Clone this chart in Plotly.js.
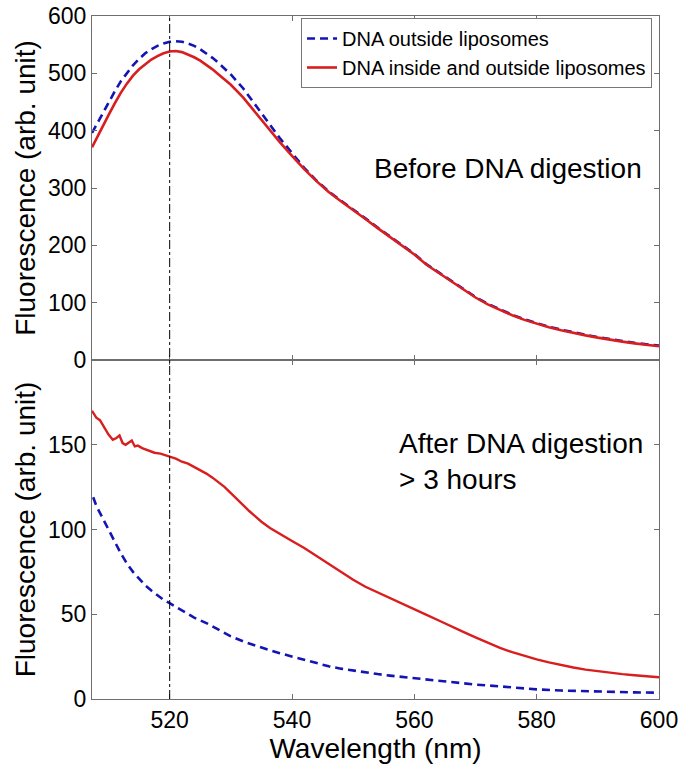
<!DOCTYPE html>
<html>
<head>
<meta charset="utf-8">
<script src="https://cdn.plot.ly/plotly-3.0.1.min.js"></script>
<style>
html,body{margin:0;padding:0;background:#fff;}
#chart{width:681px;height:764px;}
</style>
</head>
<body>
<div id="chart"></div>
<script>
// ---- Top panel: before DNA digestion ----
var beforeWl = [507.3,508,509,510,511,512,513,514,515,516,517,518,519,520,521,522,523,524,525,526,527,528,530,532,534,536,538,540,542,544,546,548,550,552,554,556,558,560,562,564,566,568,570,572,574,576,578,580,582,584,586,588,590,592,594,596,598,600];
var beforeOutside = [396,410,430,449,468,486,501,514,525,535,542,548,552,555,556,555,552,548,542,535,527,518,498,474,446,416,387,360,335,313,294,278,263,247,231,216,201,185,167,153,138,124,110,98,88,79,71,64,58,53,48,44,40,36,33,30,27,25];
var beforeInside = [371,386,408,427,447,466,482,496,507,516,524,530,535,538,539,537,533,528,522,515,507,498,480,458,432,405,380,356,333,312,293,277,262,246,230,215,200,184,166,152,137,123,109,97,87,78,70,63,57,52,47,43,39,35,32,29,26,24];

// ---- Bottom panel: after DNA digestion > 3 hours ----
var afterWlOut = [507.5,508,509,510,511,512,513,514,515,516,517,518,519,520,522,524,526,528,530,532,534,536,538,540,542,544,546,548,550,552,554,556,558,560,562,564,566,568,570,572,574,576,578,580,584,588,592,596,600];
var afterOutside = [119,114,107,100,93,86,80,75,71,67,64,61,58.5,56.5,52,48,44.8,40.8,37,34,31.5,29.2,27,25,23,21,19.3,17.9,16.7,15.6,14.7,13.8,13.0,12.4,11.8,11.0,10.1,9.2,8.5,8.0,7.4,6.8,6.2,5.7,5.0,4.5,4.2,3.9,3.7];
var afterWlIn = [507.3,508,508.6,509.3,510,510.7,511.3,511.8,512.3,512.8,513.3,513.8,514.3,514.8,515.5,516.5,517.5,518.5,519.5,520,521,522,523,524,525,526,527,528,529,530,531,532,533,534,535,536.4,538,540,542,544,546,548,550,552,554,556,558,560,562,564,566,568,570,572,574,576,578,580,582,584,586,588,590,592,594,596,598,600];
var afterInside = [170,166,164.5,160,156,153,154,155.5,151,150,151,152.5,149,149.5,148,146.8,145.3,144.8,143.4,143,141.8,140,138.8,137,135.2,133,130.6,128,125,121.5,117.8,114.2,110.9,107.7,104.6,100.9,97.3,93.2,89.1,84.3,79.4,74.7,70.3,66.2,62.8,59.4,56.1,52.7,49.6,46.3,42.8,39.6,36.4,33.1,30.2,27.6,25.4,23.4,21.6,20,18.6,17.3,16.3,15.4,14.7,14,13.4,12.8];

var xTicks = [520,540,560,580,600];
var yTicksTop = [0,100,200,300,400,500,600];
var yTicksBottom = [0,50,100,150];

var labelOutside = 'DNA outside liposomes';
var labelInside = 'DNA inside and outside liposomes';

var blue = '#1414b4';
var red = '#d81e1e';
var axisCol = '#6e6e6e';
var fontFam = 'Liberation Sans, Arial, sans-serif';

var traces = [
  {x: beforeWl, y: beforeOutside, xaxis:'x2', yaxis:'y2', mode:'lines', name: labelOutside,
   line:{color: blue, width:2.6, dash:'8px,5px'}, legendgroup:'o'},
  {x: beforeWl, y: beforeInside, xaxis:'x2', yaxis:'y2', mode:'lines', name: labelInside,
   line:{color: red, width:2.6}, legendgroup:'i'},
  {x: afterWlOut, y: afterOutside, xaxis:'x', yaxis:'y', mode:'lines', name: labelOutside,
   line:{color: blue, width:2.6, dash:'8px,5px'}, showlegend:false, legendgroup:'o'},
  {x: afterWlIn, y: afterInside, xaxis:'x', yaxis:'y', mode:'lines', name: labelInside,
   line:{color: red, width:2.4}, showlegend:false, legendgroup:'i'}
];

var axCommon = {
  showline:true, linecolor:axisCol, linewidth:1, mirror:'ticks',
  ticks:'inside', ticklen:5, tickcolor:axisCol, tickwidth:1,
  showgrid:false, zeroline:false,
  tickfont:{family:fontFam, size:23, color:'#000'}
};
var split = 339/683;

var layout = {
  width:681, height:764,
  margin:{l:92, r:22, t:16, b:65},
  paper_bgcolor:'#fff', plot_bgcolor:'#fff',
  font:{family:fontFam, color:'#000'},
  showlegend:true,
  xaxis: Object.assign({}, axCommon, {
    range:[507.3,600], tickvals:xTicks, anchor:'y', domain:[0,1],
    title:{text:'Wavelength (nm)', font:{family:fontFam, size:28, color:'#000'}, standoff:2}
  }),
  xaxis2: Object.assign({}, axCommon, {
    range:[507.3,600], tickvals:xTicks, anchor:'y2', matches:'x', showticklabels:false
  }),
  yaxis: Object.assign({}, axCommon, {
    range:[0,200], tickvals:yTicksBottom, domain:[0,split], anchor:'x',
    title:{text:'Fluorescence (arb. unit)', font:{family:fontFam, size:28, color:'#000'}, standoff:4}
  }),
  yaxis2: Object.assign({}, axCommon, {
    range:[0,600], tickvals:yTicksTop, domain:[split,1], anchor:'x2',
    title:{text:'Fluorescence (arb. unit)', font:{family:fontFam, size:28, color:'#000'}, standoff:4}
  }),
  legend:{
    x:0.9877, y:(699-18)/683, xanchor:'right', yanchor:'top',
    bgcolor:'#fff', bordercolor:'#777', borderwidth:1,
    font:{family:fontFam, size:20, color:'#000'},
    tracegroupgap:0, itemwidth:30
  },
  shapes:[
    {type:'line', xref:'x', yref:'paper', x0:520, x1:520, y0:0, y1:1,
     line:{color:'#000', width:1, dash:'dashdot'}, layer:'above'}
  ],
  annotations:[
    {xref:'paper', yref:'paper', x:0.9735, y:0.776, xanchor:'right', yanchor:'middle',
     text:'Before DNA digestion', showarrow:false, font:{family:fontFam, size:28, color:'#000'}},
    {xref:'paper', yref:'paper', x:0.538, y:0.3477, xanchor:'left', yanchor:'middle', align:'left',
     text:'After DNA digestion<br>&gt; 3 hours', showarrow:false, font:{family:fontFam, size:28, color:'#000'}}
  ]
};

Plotly.newPlot('chart', traces, layout, {displayModeBar:false, staticPlot:true});
</script>
</body>
</html>
